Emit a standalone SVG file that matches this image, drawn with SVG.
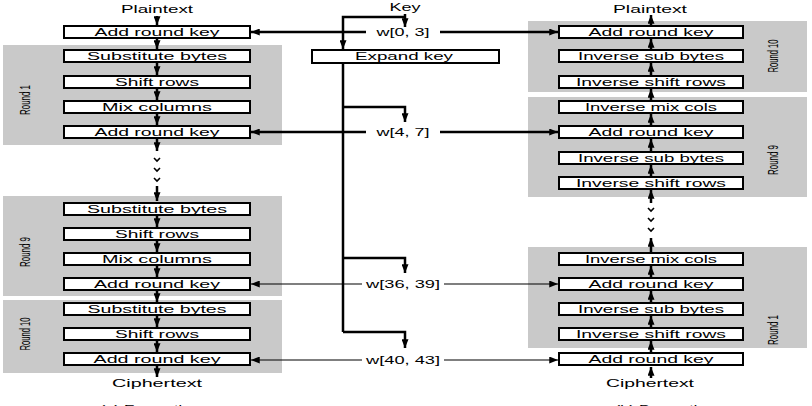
<svg xmlns="http://www.w3.org/2000/svg" width="812" height="406" viewBox="0 0 812 406">
<defs>
<style>
.panel{fill:#c9c9c9;stroke:none}
.box{fill:#fff;stroke:#000;stroke-width:2}
.t{font-family:"Liberation Sans",Arial,sans-serif;font-size:11px;fill:#000;text-anchor:middle}
.rl{font-family:"Liberation Sans",Arial,sans-serif;font-size:14px;fill:#000;text-anchor:middle}
.a{fill:none;stroke:#000;stroke-width:2.5}
.thin{fill:none;stroke:#000;stroke-width:1.2}
.dot{fill:none;stroke:#000;stroke-width:1.6}
</style>
<marker id="ah" viewBox="0 0 10 8" refX="10" refY="4" markerWidth="9" markerHeight="7" markerUnits="userSpaceOnUse" orient="auto">
<path d="M0,0 L10,4 L0,8 z" fill="#000"/>
</marker>
</defs>
<rect width="812" height="406" fill="#fff"/>

<g id="panels">
<rect class="panel" x="3" y="45" width="279" height="100"/>
<rect class="panel" x="3" y="196" width="279" height="100"/>
<rect class="panel" x="3" y="300" width="279" height="73"/>
<rect class="panel" x="528" y="21" width="279" height="71"/>
<rect class="panel" x="528" y="97" width="279" height="100"/>
<rect class="panel" x="528" y="247" width="279" height="101"/>
<text class="rl" transform="translate(30,100) rotate(-90)" textLength="30" lengthAdjust="spacingAndGlyphs">Round 1</text>
<text class="rl" transform="translate(30,252) rotate(-90)" textLength="30" lengthAdjust="spacingAndGlyphs">Round 9</text>
<text class="rl" transform="translate(30,334) rotate(-90)" textLength="33" lengthAdjust="spacingAndGlyphs">Round 10</text>
<text class="rl" transform="translate(778,56) rotate(-90)" textLength="33" lengthAdjust="spacingAndGlyphs">Round 10</text>
<text class="rl" transform="translate(778,160) rotate(-90)" textLength="30" lengthAdjust="spacingAndGlyphs">Round 9</text>
<text class="rl" transform="translate(778,330) rotate(-90)" textLength="30" lengthAdjust="spacingAndGlyphs">Round 1</text>
</g>

<g id="labels">
<text class="t" x="157" y="13" textLength="72" lengthAdjust="spacingAndGlyphs">Plaintext</text>
<text class="t" x="157" y="387" textLength="90" lengthAdjust="spacingAndGlyphs">Ciphertext</text>
<text class="t" x="650" y="13" textLength="74" lengthAdjust="spacingAndGlyphs">Plaintext</text>
<text class="t" x="650" y="387" textLength="88" lengthAdjust="spacingAndGlyphs">Ciphertext</text>
<text class="t" x="405" y="11" textLength="31" lengthAdjust="spacingAndGlyphs">Key</text>
<text class="t" x="403" y="36" textLength="53" lengthAdjust="spacingAndGlyphs">w[0, 3]</text>
<text class="t" x="403" y="136" textLength="53" lengthAdjust="spacingAndGlyphs">w[4, 7]</text>
<text class="t" x="403" y="288" textLength="74" lengthAdjust="spacingAndGlyphs">w[36, 39]</text>
<text class="t" x="403" y="364" textLength="74" lengthAdjust="spacingAndGlyphs">w[40, 43]</text>
<text class="t" x="150" y="413" font-size="13" textLength="100" lengthAdjust="spacingAndGlyphs">(a) Encryption</text>
<text class="t" x="665" y="413" font-size="13" textLength="100" lengthAdjust="spacingAndGlyphs">(b) Decryption</text>
</g>

<g id="enc">
<g id="e0"><rect class="box" x="64" y="26" width="186" height="12"/><text class="t" x="157" y="36" textLength="125" lengthAdjust="spacingAndGlyphs">Add round key</text></g>
<g id="e1"><rect class="box" x="64" y="50" width="186" height="12"/><text class="t" x="157" y="60" textLength="140" lengthAdjust="spacingAndGlyphs">Substitute bytes</text></g>
<g id="e2"><rect class="box" x="64" y="76" width="186" height="12"/><text class="t" x="157" y="86" textLength="84" lengthAdjust="spacingAndGlyphs">Shift rows</text></g>
<g id="e3"><rect class="box" x="64" y="101" width="186" height="12"/><text class="t" x="157" y="111" textLength="110" lengthAdjust="spacingAndGlyphs">Mix columns</text></g>
<g id="e4"><rect class="box" x="64" y="126" width="186" height="12"/><text class="t" x="157" y="136" textLength="125" lengthAdjust="spacingAndGlyphs">Add round key</text></g>
<g id="e5"><rect class="box" x="64" y="203" width="186" height="12"/><text class="t" x="157" y="213" textLength="140" lengthAdjust="spacingAndGlyphs">Substitute bytes</text></g>
<g id="e6"><rect class="box" x="64" y="228" width="186" height="12"/><text class="t" x="157" y="238" textLength="84" lengthAdjust="spacingAndGlyphs">Shift rows</text></g>
<g id="e7"><rect class="box" x="64" y="253" width="186" height="12"/><text class="t" x="157" y="263" textLength="110" lengthAdjust="spacingAndGlyphs">Mix columns</text></g>
<g id="e8"><rect class="box" x="64" y="278" width="186" height="12"/><text class="t" x="157" y="288" textLength="126" lengthAdjust="spacingAndGlyphs">Add round key</text></g>
<g id="e9"><rect class="box" x="64" y="303" width="186" height="12"/><text class="t" x="157" y="313" textLength="139" lengthAdjust="spacingAndGlyphs">Substitute bytes</text></g>
<g id="e10"><rect class="box" x="64" y="328" width="186" height="12"/><text class="t" x="157" y="338" textLength="84" lengthAdjust="spacingAndGlyphs">Shift rows</text></g>
<g id="e11"><rect class="box" x="64" y="353" width="186" height="12"/><text class="t" x="157" y="363" textLength="127" lengthAdjust="spacingAndGlyphs">Add round key</text></g>
</g>

<g id="key">
<g id="expand"><rect class="box" x="312" y="50" width="187" height="13"/><text class="t" x="404" y="60" textLength="98" lengthAdjust="spacingAndGlyphs">Expand key</text></g>
</g>

<g id="dec">
<g id="d0"><rect class="box" x="559" y="26" width="184" height="12"/><text class="t" x="651" y="36" textLength="125" lengthAdjust="spacingAndGlyphs">Add round key</text></g>
<g id="d1"><rect class="box" x="559" y="50" width="184" height="12"/><text class="t" x="651" y="60" textLength="146" lengthAdjust="spacingAndGlyphs">Inverse sub bytes</text></g>
<g id="d2"><rect class="box" x="559" y="76" width="184" height="12"/><text class="t" x="651" y="86" textLength="150" lengthAdjust="spacingAndGlyphs">Inverse shift rows</text></g>
<g id="d3"><rect class="box" x="559" y="101" width="184" height="12"/><text class="t" x="651" y="111" textLength="132" lengthAdjust="spacingAndGlyphs">Inverse mix cols</text></g>
<g id="d4"><rect class="box" x="559" y="126" width="184" height="12"/><text class="t" x="651" y="136" textLength="125" lengthAdjust="spacingAndGlyphs">Add round key</text></g>
<g id="d5"><rect class="box" x="559" y="152" width="184" height="12"/><text class="t" x="651" y="162" textLength="146" lengthAdjust="spacingAndGlyphs">Inverse sub bytes</text></g>
<g id="d6"><rect class="box" x="559" y="177" width="184" height="12"/><text class="t" x="651" y="187" textLength="150" lengthAdjust="spacingAndGlyphs">Inverse shift rows</text></g>
<g id="d7"><rect class="box" x="559" y="253" width="184" height="12"/><text class="t" x="651" y="263" textLength="132" lengthAdjust="spacingAndGlyphs">Inverse mix cols</text></g>
<g id="d8"><rect class="box" x="559" y="278" width="184" height="12"/><text class="t" x="651" y="288" textLength="125" lengthAdjust="spacingAndGlyphs">Add round key</text></g>
<g id="d9"><rect class="box" x="559" y="303" width="184" height="12"/><text class="t" x="651" y="313" textLength="146" lengthAdjust="spacingAndGlyphs">Inverse sub bytes</text></g>
<g id="d10"><rect class="box" x="559" y="328" width="184" height="12"/><text class="t" x="651" y="338" textLength="150" lengthAdjust="spacingAndGlyphs">Inverse shift rows</text></g>
<g id="d11"><rect class="box" x="559" y="353" width="184" height="12"/><text class="t" x="651" y="363" textLength="125" lengthAdjust="spacingAndGlyphs">Add round key</text></g>
</g>

<g id="connectors">
<path class="a" marker-end="url(#ah)" d="M157,16 V25"/>
<path class="a" marker-end="url(#ah)" d="M157,39 V49"/>
<path class="a" marker-end="url(#ah)" d="M157,63 V75"/>
<path class="a" marker-end="url(#ah)" d="M157,89 V100"/>
<path class="a" marker-end="url(#ah)" d="M157,114 V125"/>
<path class="a" marker-end="url(#ah)" d="M157,139 V151"/>
<path class="a" marker-end="url(#ah)" d="M157,186 V201"/>
<path class="a" marker-end="url(#ah)" d="M157,216 V227"/>
<path class="a" marker-end="url(#ah)" d="M157,241 V252"/>
<path class="a" marker-end="url(#ah)" d="M157,266 V277"/>
<path class="a" marker-end="url(#ah)" d="M157,291 V302"/>
<path class="a" marker-end="url(#ah)" d="M157,316 V327"/>
<path class="a" marker-end="url(#ah)" d="M157,341 V352"/>
<path class="a" marker-end="url(#ah)" d="M157,366 V377"/>
<path class="a" marker-end="url(#ah)" d="M651,378 V367"/>
<path class="a" marker-end="url(#ah)" d="M651,353 V341"/>
<path class="a" marker-end="url(#ah)" d="M651,328 V316"/>
<path class="a" marker-end="url(#ah)" d="M651,303 V291"/>
<path class="a" marker-end="url(#ah)" d="M651,278 V266"/>
<path class="a" marker-end="url(#ah)" d="M651,253 V238"/>
<path class="a" marker-end="url(#ah)" d="M651,203 V190"/>
<path class="a" marker-end="url(#ah)" d="M651,177 V165"/>
<path class="a" marker-end="url(#ah)" d="M651,152 V139"/>
<path class="a" marker-end="url(#ah)" d="M651,126 V114"/>
<path class="a" marker-end="url(#ah)" d="M651,101 V89"/>
<path class="a" marker-end="url(#ah)" d="M651,76 V63"/>
<path class="a" marker-end="url(#ah)" d="M651,50 V39"/>
<path class="a" marker-end="url(#ah)" d="M651,26 V15"/>
<path class="dot" d="M154,158 L157,161 L160,158 M154,168 L157,171 L160,168 M154,178 L157,181 L160,178"/>
<path class="dot" d="M648,208 L651,211 L654,208 M648,218 L651,221 L654,218 M648,228 L651,231 L654,228"/>
<path class="a" marker-end="url(#ah)" d="M405,14 V27"/>
<path class="a" marker-end="url(#ah)" d="M405,17 H343 V49"/>
<path class="a" d="M343,63 V332"/>
<path class="a" marker-end="url(#ah)" d="M343,107 H405 V122"/>
<path class="a" marker-end="url(#ah)" d="M343,258 H405 V273"/>
<path class="a" marker-end="url(#ah)" d="M343,332 H405 V348"/>
<path class="a" marker-end="url(#ah)" d="M366,32 H251"/>
<path class="a" marker-end="url(#ah)" d="M440,32 H558"/>
<path class="a" marker-end="url(#ah)" d="M366,132 H251"/>
<path class="a" marker-end="url(#ah)" d="M440,132 H558"/>
<path class="thin" marker-end="url(#ah)" d="M362,284 H251"/>
<path class="thin" marker-end="url(#ah)" d="M444,284 H558"/>
<path class="thin" marker-end="url(#ah)" d="M362,360 H251"/>
<path class="thin" marker-end="url(#ah)" d="M444,360 H558"/>
</g>
</svg>
